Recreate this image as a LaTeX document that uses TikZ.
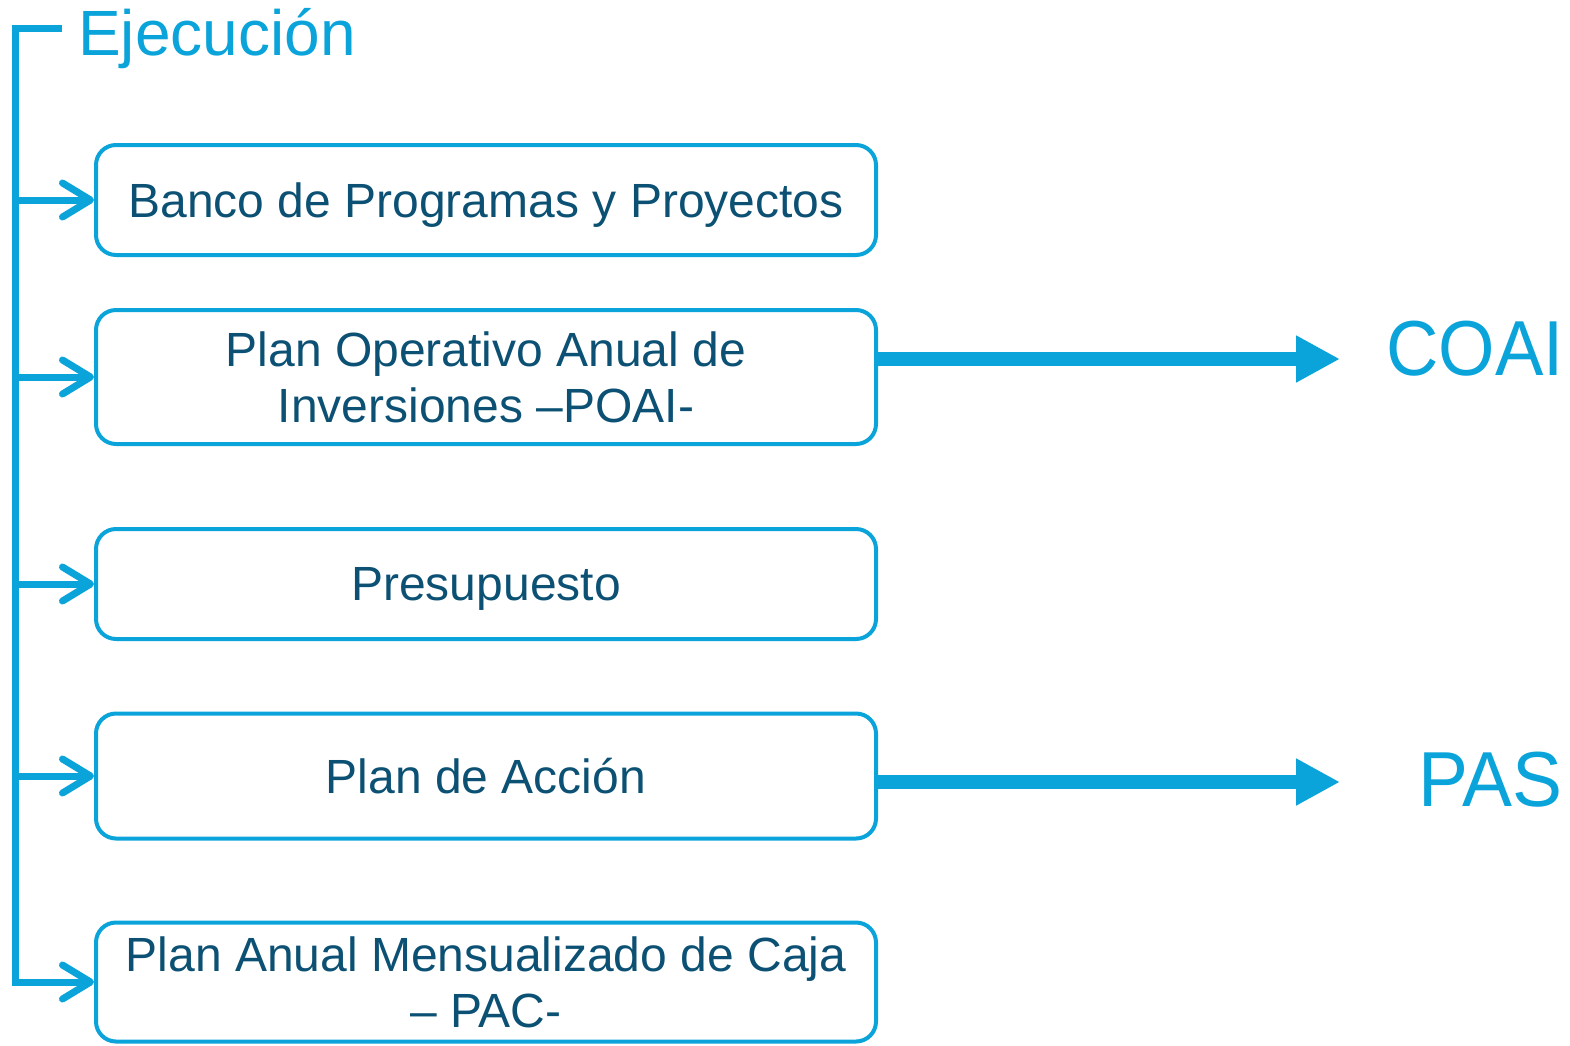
\documentclass[tikz,border=0pt]{standalone}
\usepackage{fontspec}
\setmainfont{Liberation Sans}
\usepackage{tikz}
\usetikzlibrary{arrows.meta}
\usetikzlibrary{positioning}
\definecolor{ejcyan}{HTML}{0AA3DA}
\definecolor{ejtext}{HTML}{0C5174}

\begin{document}
\begin{tikzpicture}[x=1pt,y=-1pt,on grid,
        box/.style={draw=ejcyan,line width=4pt,rounded corners=20pt,minimum width=780pt,
            align=center,text=ejtext,inner sep=0pt,text depth=0pt,font=\fontsize{48}{56}\selectfont},
        feed/.style={ejcyan,line width=7pt,-{Straight Barb[length=28pt,width=34pt,round]}},
        big/.style={ejcyan,line width=14pt,-{Triangle[length=44pt,width=44pt]}},
        tag/.style={text=ejcyan,inner sep=0pt}]
        \useasboundingbox (0,0) rectangle (1570,1045);
        \node[box, minimum height=110pt] (banco) at (486,200) {Banco de Programas y Proyectos};
        \node[box, minimum height=134pt] (poai) [below=177pt of banco] {Plan Operativo Anual de\\Inversiones –POAI-};
        \node[box, minimum height=110pt] (presupuesto) [below=207pt of poai] {Presupuesto};
        \node[box, minimum height=125pt] (accion) [below=192pt of presupuesto] {Plan de Acción};
        \node[box, minimum height=119pt] (pac) [below=206pt of accion] {Plan Anual Mensualizado de Caja\\– PAC-};
        \node[tag, anchor=base west, font=\fontsize{64}{64}\selectfont] (ejec) at (78,55) {Ejecución};
        \node[tag, anchor=base east, font=\fontsize{78}{78}\selectfont] (coai) at (1564,375) {\scalebox{0.93}[1]{COAI}};
        \node[tag, anchor=base east, font=\fontsize{78}{78}\selectfont] (pas) at (1563,806) {\scalebox{0.96}[1]{PAS}};
        % bracket on the left
        \coordinate (top) at (15,28);
        \coordinate (topend) at (62,28);
        \draw[feed] (topend) -- (top) -- (top |- pac.west) -- (pac.west);
        \foreach \b in {banco,poai,presupuesto,accion}
            \draw[feed] (top |- \b.west) -- (\b.west);
        % outputs
        \coordinate (coaitip) at (1340,359);
        \coordinate (pastip) at (1340,782);
        \draw[big] (poai.east |- coaitip) -- (coaitip);
        \draw[big] (accion.east |- pastip) -- (pastip);
    \end{tikzpicture}
\end{document}
